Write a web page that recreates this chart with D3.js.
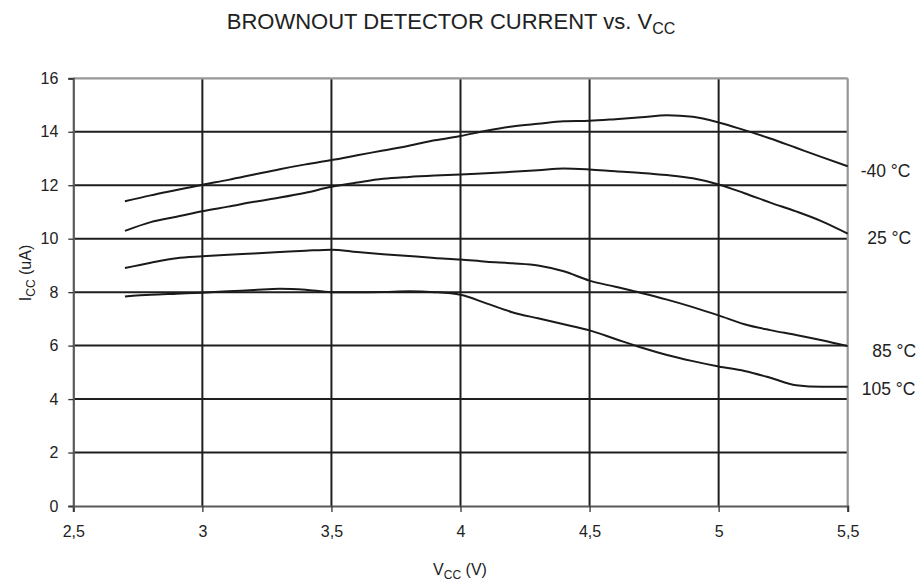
<!DOCTYPE html>
<html>
<head>
<meta charset="utf-8">
<script src="https://cdn.jsdelivr.net/npm/d3@7"></script>
<style>
  html, body { margin: 0; padding: 0; background: #fff; }
  svg { display: block; font-family: "Liberation Sans", Arial, sans-serif; }
</style>
</head>
<body>
<svg id="chart" width="923" height="585"></svg>
<script>
// Supply voltage samples (V)
const voltages = [2.7, 2.8, 2.9, 3.0, 3.1, 3.2, 3.3, 3.4, 3.5, 3.6, 3.7, 3.8, 3.9, 4.0,
                  4.1, 4.2, 4.3, 4.4, 4.5, 4.6, 4.7, 4.8, 4.9, 5.0, 5.1, 5.2, 5.3, 5.4, 5.5];

// Brownout detector current (uA) per temperature
const iccMinus40 = [11.4, 11.62, 11.82, 12.02, 12.2, 12.4, 12.6, 12.78, 12.94, 13.12, 13.3, 13.48, 13.68, 13.84,
                    14.04, 14.2, 14.3, 14.39, 14.41, 14.47, 14.54, 14.62, 14.56, 14.35, 14.06, 13.75, 13.4, 13.05, 12.71];
const icc25 = [10.29, 10.62, 10.82, 11.03, 11.2, 11.38, 11.54, 11.72, 11.94, 12.1, 12.24, 12.31, 12.36, 12.4,
               12.45, 12.5, 12.56, 12.63, 12.59, 12.52, 12.46, 12.38, 12.26, 12.03, 11.7, 11.35, 11.02, 10.65, 10.19];
const icc85 = [8.9, 9.1, 9.27, 9.34, 9.4, 9.45, 9.5, 9.55, 9.59, 9.5, 9.42, 9.35, 9.28, 9.22,
               9.14, 9.08, 9.0, 8.78, 8.43, 8.2, 7.97, 7.72, 7.44, 7.13, 6.8, 6.58, 6.4, 6.2, 5.98];
const icc105 = [7.84, 7.9, 7.94, 7.98, 8.03, 8.08, 8.13, 8.09, 8.0, 8.0, 8.01, 8.03, 8.0, 7.9,
                7.58, 7.25, 7.02, 6.8, 6.57, 6.25, 5.93, 5.65, 5.42, 5.22, 5.05, 4.8, 4.52, 4.46, 4.46];

const seriesNames = ["-40 °C", "25 °C", "85 °C", "105 °C"];
const seriesValues = [iccMinus40, icc25, icc85, icc105];
// Current level at which each temperature label sits
const labelLevels = [12.55, 10.03, 5.79, 4.39];
const labelShift = [0, 6.5, 11.5, 1];

const xTicks = [2.5, 3, 3.5, 4, 4.5, 5, 5.5];
const xTickLabels = ["2,5", "3", "3,5", "4", "4,5", "5", "5,5"];
const yTicks = [0, 2, 4, 6, 8, 10, 12, 14, 16];

const svg = d3.select("#chart");
const plot = { left: 73.3, right: 847.7, top: 78.3, bottom: 506 };

const x = d3.scaleLinear().domain([2.5, 5.5]).range([plot.left, plot.right]);
const y = d3.scaleLinear().domain([0, 16]).range([plot.bottom, plot.top]);

// Grid lines
const grid = svg.append("g");
grid.selectAll("line.h")
  .data(yTicks.filter(t => t > 0 && t < 16))
  .enter().append("line")
  .attr("x1", plot.left).attr("x2", plot.right)
  .attr("y1", d => y(d)).attr("y2", d => y(d))
  .attr("stroke", "#1e1e1e").attr("stroke-width", 2);
grid.selectAll("line.v")
  .data(xTicks.filter(t => t > 2.5 && t < 5.5))
  .enter().append("line")
  .attr("y1", plot.top).attr("y2", plot.bottom)
  .attr("x1", d => x(d)).attr("x2", d => x(d))
  .attr("stroke", "#1e1e1e").attr("stroke-width", 2);

// Frame: top and right edges in light grey
svg.append("line").attr("x1", plot.left).attr("x2", plot.right).attr("y1", plot.top).attr("y2", plot.top)
  .attr("stroke", "#979797").attr("stroke-width", 2.2);
svg.append("line").attr("x1", plot.right).attr("x2", plot.right).attr("y1", plot.top).attr("y2", plot.bottom)
  .attr("stroke", "#979797").attr("stroke-width", 2.2);

// Axes
const xAxis = svg.append("g")
  .attr("transform", `translate(0,${plot.bottom})`)
  .call(d3.axisBottom(x).tickValues(xTicks).tickFormat((d, i) => xTickLabels[i]).tickSize(6).tickPadding(14));
const yAxis = svg.append("g")
  .attr("transform", `translate(${plot.left},0)`)
  .call(d3.axisLeft(y).tickValues(yTicks).tickSize(5).tickPadding(10));

[xAxis, yAxis].forEach(ax => {
  ax.select(".domain").attr("stroke", "#595959").attr("stroke-width", 2.2);
  ax.selectAll(".tick line").attr("stroke", "#333").attr("stroke-width", 1.3);
  ax.selectAll(".tick text")
    .attr("font-family", "Liberation Sans, Arial, sans-serif")
    .attr("font-size", 16).attr("fill", "#222");
});

// Curves
const line = d3.line()
  .x((d, i) => x(voltages[i]))
  .y(d => y(d))
  .curve(d3.curveMonotoneX);

svg.append("g").selectAll("path")
  .data(seriesValues)
  .enter().append("path")
  .attr("d", line)
  .attr("fill", "none")
  .attr("stroke", "#1a1a1a")
  .attr("stroke-width", 2);

// Temperature labels at the right of the plot
svg.append("g").selectAll("text")
  .data(seriesNames)
  .enter().append("text")
  .attr("x", (d, i) => plot.right + 13 + labelShift[i])
  .attr("y", (d, i) => y(labelLevels[i]))
  .attr("dy", "0.35em")
  .attr("font-size", 17.5)
  .attr("fill", "#222")
  .text(d => d);

// Title
const title = svg.append("text")
  .attr("x", 451).attr("y", 28.5)
  .attr("text-anchor", "middle")
  .attr("font-size", 22).attr("fill", "#222");
title.append("tspan").text("BROWNOUT DETECTOR CURRENT vs. V");
title.append("tspan").attr("font-size", 16).attr("dy", 5).text("CC");

// Axis titles
const xt = svg.append("text")
  .attr("x", 460).attr("y", 575)
  .attr("text-anchor", "middle")
  .attr("font-size", 16).attr("fill", "#222");
xt.append("tspan").text("V");
xt.append("tspan").attr("font-size", 12).attr("dy", 4).text("CC");
xt.append("tspan").attr("dy", -4).text(" (V)");

const yt = svg.append("text")
  .attr("transform", "translate(31,273) rotate(-90)")
  .attr("text-anchor", "middle")
  .attr("font-size", 16).attr("fill", "#222");
yt.append("tspan").text("I");
yt.append("tspan").attr("font-size", 12).attr("dy", 4).text("CC");
yt.append("tspan").attr("dy", -4).text(" (uA)");
</script>
</body>
</html>
